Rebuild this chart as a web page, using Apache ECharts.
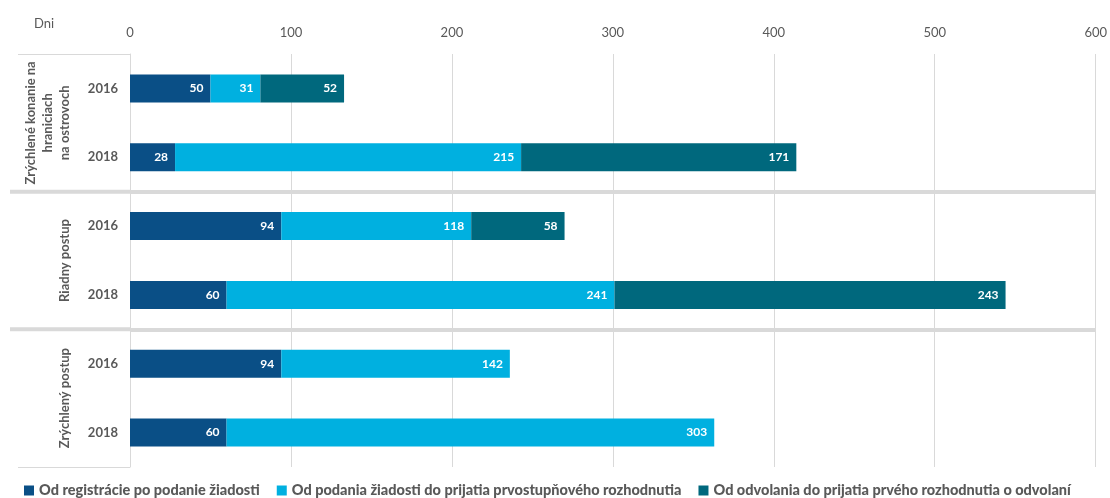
<!DOCTYPE html>
<html><head><meta charset="utf-8">
<script src="https://cdn.jsdelivr.net/npm/echarts@6/dist/echarts.min.js"></script>
<style>html,body{margin:0;padding:0;background:#fff}#c{width:1110px;height:498px}</style>
</head><body><div id="c"></div>
<script>
const years = ['2016', '2018', '2016', '2018', '2016', '2018'];
const groups = ['Zrýchlené konanie na\nhraniciach\nna ostrovoch', 'Riadny postup', 'Zrýchlený postup'];
const seriesNames = [
  'Od registrácie po podanie žiadosti',
  'Od podania žiadosti do prijatia prvostupňového rozhodnutia',
  'Od odvolania do prijatia prvého rozhodnutia o odvolaní'
];
const s1 = [50, 28, 94, 60, 94, 60];
const s2 = [31, 215, 118, 241, 142, 303];
const s3 = [52, 171, 58, 243, null, null];
const xTicks = [0, 100, 200, 300, 400, 500, 600];
const colors = ['#0A4F86', '#00B0E0', '#00687D'];
const FONT = 'Lato, "Open Sans", sans-serif';
const GRAY = '#595959';

const chart = echarts.init(document.getElementById('c'), null, {renderer: 'canvas'});
const lbl = {show: true, position: 'insideRight', distance: 7, color: '#fff', fontWeight: 'bold', fontSize: 12, fontFamily: FONT,
  formatter: p => (p.value == null ? '' : p.value)};
const data = [s1, s2, s3];
const option = {
  animation: false,
  textStyle: {fontFamily: FONT},
  color: colors,
  title: {text: 'Dni', left: 29, top: 12, textStyle: {fontSize: 13, fontWeight: 'normal', color: GRAY, fontFamily: FONT}},
  grid: {left: 130, right: 12, top: 54, bottom: 31, containLabel: false},
  legend: {
    data: seriesNames,
    left: 19, top: 478, icon: 'rect', itemWidth: 10, itemHeight: 10, itemGap: 17,
    textStyle: {color: GRAY, fontFamily: 'Lato', fontSize: 14.5, fontWeight: 900}
  },
  xAxis: {
    type: 'value', position: 'top', min: xTicks[0], max: xTicks[xTicks.length - 1], interval: 100,
    axisLine: {show: false}, axisTick: {show: false},
    axisLabel: {color: GRAY, fontSize: 13, margin: 15, fontFamily: FONT},
    splitLine: {lineStyle: {color: '#d9d9d9', width: 1}}
  },
  yAxis: [{
    type: 'category', data: years, inverse: true,
    axisLine: {lineStyle: {color: '#d9d9d9', width: 1}}, axisTick: {show: false},
    axisLabel: {color: GRAY, fontSize: 13, fontWeight: 'bold', margin: 12, fontFamily: FONT, interval: 0}
  }, {
    type: 'category', data: groups, inverse: true, position: 'left',
    axisLine: {show: false},
    axisTick: {show: true, length: 112, lineStyle: {color: '#d9d9d9', width: 1}},
    splitLine: {show: true, showMinLine: false, showMaxLine: false, lineStyle: {color: '#d9d9d9', width: 4}},
    axisLabel: {interval: 0, hideOverlap: false, rotate: 90, margin: 57, color: GRAY, fontSize: 13, fontWeight: 'bold', lineHeight: 17, fontFamily: FONT}
  }],
  series: seriesNames.map((n, i) => ({
    name: n, type: 'bar', stack: 'total', yAxisIndex: 0, barWidth: 28,
    data: data[i], label: lbl, itemStyle: {color: colors[i]}
  }))
};
chart.setOption(option);

// thick separators extended into the label area
const seps = [];
for (let i = 0; i < groups.length - 1; i++) {
  const a = chart.convertToPixel({yAxisIndex: 1}, groups[i]);
  const b = chart.convertToPixel({yAxisIndex: 1}, groups[i + 1]);
  const y = (a + b) / 2;
  const x0 = chart.convertToPixel({xAxisIndex: 0}, xTicks[0]);
  seps.push({type: 'line', shape: {x1: 10, y1: y, x2: x0, y2: y}, style: {stroke: '#d9d9d9', lineWidth: 4}, z: 5});
}
chart.setOption({graphic: seps});
</script></body></html>
